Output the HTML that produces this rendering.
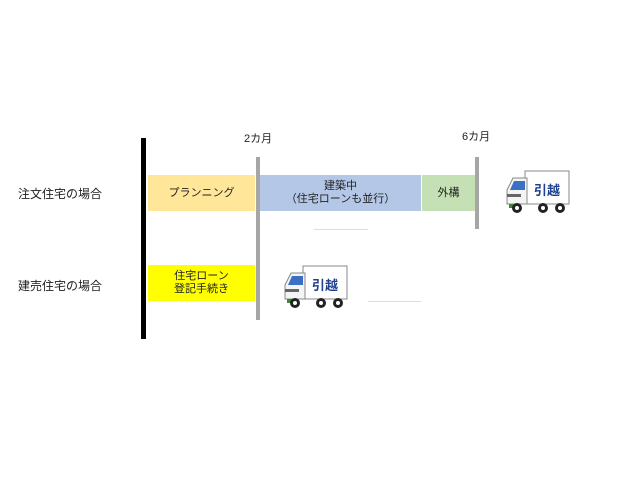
<!DOCTYPE html>
<html><head><meta charset="utf-8"><style>
body{margin:0;width:640px;height:480px;background:#fff;position:relative;font-family:"Liberation Sans","Noto Sans CJK JP",sans-serif;color:#222;overflow:hidden}
.a{position:absolute}
.t{font-size:11px;text-align:center;line-height:13px;display:flex;align-items:center;justify-content:center;flex-direction:column}
</style></head><body>
<div class="a" style="left:18px;top:185px;font-size:12px">注文住宅の場合</div>
<div class="a" style="left:18px;top:277px;font-size:12px">建売住宅の場合</div>
<div class="a" style="left:244px;top:130px;font-size:11px">2カ月</div>
<div class="a" style="left:462px;top:128px;font-size:11px">6カ月</div>
<div class="a" style="left:141px;top:138px;width:5px;height:201px;background:#000"></div>
<div class="a t" style="left:148px;top:175px;width:107px;height:36px;background:#ffe699">プランニング</div>
<div class="a t" style="left:260px;top:175px;width:161px;height:36px;background:#b4c7e7">建築中<br>（住宅ローンも並行）</div>
<div class="a t" style="left:422px;top:175px;width:53px;height:36px;background:#c5e0b4">外構</div>
<div class="a t" style="left:148px;top:265px;width:107px;height:36px;background:#ffff00">住宅ローン<br>登記手続き</div>
<div class="a" style="left:256px;top:157px;width:4px;height:163px;background:#a6a6a6"></div>
<div class="a" style="left:475px;top:157px;width:4px;height:72px;background:#a6a6a6"></div>
<div class="a" style="left:314px;top:229px;width:54px;height:1px;background:#ddd"></div>
<div class="a" style="left:368px;top:301px;width:53px;height:1px;background:#ddd"></div>
<svg class="a" style="left:503px;top:168px" width="70" height="48" viewBox="0 0 70 48">
<g stroke="#888" stroke-width="1">
<rect x="22" y="3" width="44" height="33" fill="#fff"/>
<path d="M4 36 L4 22 L10 10 L24 10 L24 36 Z" fill="#f4f4f4"/>
</g>
<path d="M7 22 L11 13 L22 13 L22 22 Z" fill="#3a6fc4"/>
<rect x="4" y="26" width="14" height="3" fill="#666"/>
<rect x="6" y="36" width="10" height="4" fill="#3a8a3a"/>
<text x="44" y="27" font-size="13" font-weight="bold" fill="#1f3f8f" text-anchor="middle" font-family="Noto Sans CJK JP,sans-serif">引越</text>
<circle cx="14" cy="40" r="5" fill="#222"/><circle cx="40" cy="40" r="5" fill="#222"/><circle cx="57" cy="40" r="5" fill="#222"/>
<circle cx="14" cy="40" r="2" fill="#fff"/><circle cx="40" cy="40" r="2" fill="#fff"/><circle cx="57" cy="40" r="2" fill="#fff"/>
</svg>
<svg class="a" style="left:281px;top:263px" width="70" height="48" viewBox="0 0 70 48">
<g stroke="#888" stroke-width="1">
<rect x="22" y="3" width="44" height="33" fill="#fff"/>
<path d="M4 36 L4 22 L10 10 L24 10 L24 36 Z" fill="#f4f4f4"/>
</g>
<path d="M7 22 L11 13 L22 13 L22 22 Z" fill="#3a6fc4"/>
<rect x="4" y="26" width="14" height="3" fill="#666"/>
<rect x="6" y="36" width="10" height="4" fill="#3a8a3a"/>
<text x="44" y="27" font-size="13" font-weight="bold" fill="#1f3f8f" text-anchor="middle" font-family="Noto Sans CJK JP,sans-serif">引越</text>
<circle cx="14" cy="40" r="5" fill="#222"/><circle cx="40" cy="40" r="5" fill="#222"/><circle cx="57" cy="40" r="5" fill="#222"/>
<circle cx="14" cy="40" r="2" fill="#fff"/><circle cx="40" cy="40" r="2" fill="#fff"/><circle cx="57" cy="40" r="2" fill="#fff"/>
</svg>
</body></html>
